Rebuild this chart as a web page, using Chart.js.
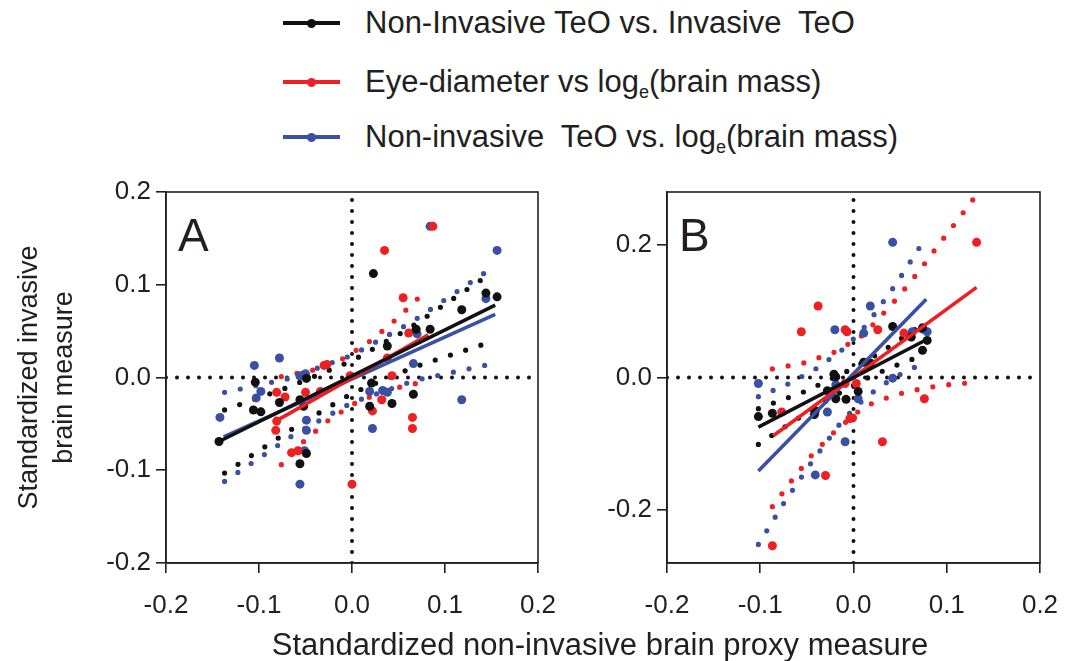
<!DOCTYPE html>
<html><head><meta charset="utf-8">
<script src="https://cdn.jsdelivr.net/npm/chart.js@4.4.0/dist/chart.umd.min.js"></script>
<style>
html,body{margin:0;padding:0;background:#fff;width:1075px;height:661px;overflow:hidden;font-family:"Liberation Sans",Arial,sans-serif;color:#231f20;}
canvas{position:absolute;}
.leg{position:absolute;left:283px;width:760px;height:36px;}
.leg .ln{position:absolute;left:0;top:16px;width:57px;height:4px;}
.leg .dt{position:absolute;left:24px;top:13.5px;width:9px;height:9px;border-radius:50%;}
.leg .tx{position:absolute;left:82px;top:0;font-size:31px;line-height:36px;white-space:pre;}
.leg sub{font-size:18px;vertical-align:-6px;line-height:0;}
.plab{position:absolute;font-size:46px;line-height:46px;}
#xtitle{position:absolute;left:0;width:1200px;text-align:center;top:627px;font-size:31px;line-height:36px;white-space:pre;}
</style></head>
<body>
<div class="leg" style="top:5px"><div class="ln" style="background:#111"></div><div class="dt" style="background:#111"></div><div class="tx">Non-Invasive TeO vs. Invasive  TeO</div></div>
<div class="leg" style="top:64px"><div class="ln" style="background:#ed2024"></div><div class="dt" style="background:#ed2024"></div><div class="tx">Eye-diameter vs log<sub>e</sub>(brain mass)</div></div>
<div class="leg" style="top:119px"><div class="ln" style="background:#3a50a2"></div><div class="dt" style="background:#3a50a2"></div><div class="tx">Non-invasive  TeO vs. log<sub>e</sub>(brain mass)</div></div>
<canvas id="cA" width="560" height="491" style="left:0;top:170px"></canvas>
<canvas id="cB" width="515" height="491" style="left:560px;top:170px"></canvas>
<div class="plab" style="left:178px;top:212px">A</div>
<div class="plab" style="left:679px;top:212px">B</div>
<div id="xtitle">Standardized non-invasive brain proxy measure</div>
<script>
// ---- axes ----
const xRange = [-0.2, 0.2];
const xTicks = [-0.2, -0.1, 0, 0.1, 0.2];
const xTickLabels = ['-0.2', '-0.1', '0.0', '0.1', '0.2'];
const aYRange = [-0.2, 0.2];
const aYTicks = [-0.2, -0.1, 0, 0.1, 0.2];
const aYTickLabels = ['-0.2', '-0.1', '0.0', '0.1', '0.2'];
const bYRange = [-0.28, 0.28];
const bYTicks = [-0.2, 0, 0.2];
const bYTickLabels = ['-0.2', '0.0', '0.2'];
const yTitle = ['Standardized invasive', 'brain measure'];

// ---- Panel A data ----
const aBlackPts = [[-0.143,-0.069],[0.023,0.112],[0.156,0.087],[0.144,0.091],[0.118,0.073],[0.084,0.052],[0.069,0.052],[0.038,0.034],[0.021,-0.006],[0.066,-0.018],[0.043,-0.028],[0.019,-0.031],[-0.049,-0.001],[-0.052,-0.031],[-0.056,-0.024],[-0.078,-0.027],[-0.106,-0.035],[-0.098,-0.037],[-0.104,-0.005],[-0.049,-0.082],[-0.056,-0.093]];
const aRedPts = [[0.087,0.163],[0.035,0.137],[0.055,0.086],[0.061,0.048],[0.038,0.021],[0.043,0.002],[-0.002,0.002],[-0.027,0.014],[-0.030,0.013],[-0.034,-0.015],[-0.050,-0.016],[-0.072,-0.021],[-0.081,-0.016],[-0.081,-0.047],[-0.082,-0.057],[0.032,-0.024],[0.022,-0.036],[0.065,-0.043],[0.065,-0.055],[0.000,-0.115],[-0.058,-0.079],[-0.065,-0.081]];
const aBluePts = [[0.084,0.163],[0.156,0.137],[0.144,0.085],[0.070,0.047],[0.066,0.015],[0.118,-0.024],[0.033,-0.014],[0.038,-0.016],[0.019,-0.015],[0.022,-0.055],[-0.078,0.021],[-0.105,0.013],[-0.142,-0.043],[-0.103,-0.022],[-0.098,-0.015],[-0.056,0.002],[-0.050,0.004],[-0.049,-0.046],[-0.049,-0.057],[-0.051,-0.079],[-0.056,-0.115]];
const aBlackFit = [[-0.143,-0.069],[0.154,0.078]];
const aRedFit = [[-0.082,-0.047],[0.082,0.046]];
const aBlueFit = [[-0.138,-0.064],[0.154,0.068]];
const aBlackUpper = [[-0.137,-0.035],[-0.070,-0.011],[0.000,0.018],[0.060,0.052],[0.149,0.112]];
const aBlackLower = [[-0.137,-0.103],[-0.062,-0.054],[0.000,-0.017],[0.066,0.011],[0.151,0.039]];
const aRedUpper = [[-0.076,0.001],[-0.042,0.008],[-0.008,0.021],[0.022,0.041],[0.049,0.064],[0.080,0.094]];
const aRedLower = [[-0.076,-0.094],[-0.051,-0.068],[-0.024,-0.045],[0.006,-0.026],[0.040,-0.013],[0.080,-0.004]];
const aBlueUpper = [[-0.137,-0.016],[-0.067,-0.001],[0.000,0.024],[0.063,0.059],[0.152,0.119]];
const aBlueLower = [[-0.137,-0.112],[-0.063,-0.062],[0.000,-0.027],[0.068,-0.003],[0.152,0.015]];

// ---- Panel B data ----
const bBlackPts = [[0.042,0.077],[0.062,0.061],[0.074,0.041],[0.079,0.056],[0.074,0.075],[0.011,0.023],[0.018,0.022],[-0.021,0.005],[-0.019,0.001],[-0.028,-0.020],[-0.019,-0.032],[-0.008,-0.033],[-0.041,-0.050],[-0.042,-0.056],[0.005,-0.021],[-0.087,-0.054],[-0.102,-0.059]];
const bRedPts = [[0.132,0.204],[-0.038,0.108],[-0.056,0.069],[-0.009,0.072],[-0.007,0.069],[0.026,0.072],[0.054,0.067],[-0.001,-0.061],[-0.004,-0.062],[-0.009,-0.009],[0.003,-0.009],[-0.077,-0.052],[0.031,-0.097],[-0.030,-0.148],[-0.087,-0.254],[0.076,-0.032]];
const bBluePts = [[0.042,0.204],[0.018,0.108],[-0.020,0.072],[0.011,0.067],[0.063,0.069],[0.074,0.073],[0.079,0.069],[-0.102,-0.009],[-0.019,-0.011],[-0.028,-0.052],[0.005,-0.032],[-0.009,-0.097],[-0.041,-0.147],[0.042,-0.001]];
const bBlackFit = [[-0.102,-0.075],[0.078,0.057]];
const bRedFit = [[-0.086,-0.088],[0.132,0.136]];
const bBlueFit = [[-0.102,-0.141],[0.078,0.118]];
const bBlackUpper = [[-0.102,-0.047],[-0.052,-0.021],[-0.003,0.012],[0.028,0.037],[0.058,0.065],[0.076,0.082]];
const bBlackLower = [[-0.102,-0.101],[-0.072,-0.073],[-0.042,-0.046],[-0.012,-0.021],[0.020,0.003],[0.052,0.022],[0.076,0.034]];
const bRedUpper = [[-0.087,0.013],[-0.053,0.022],[-0.019,0.039],[0.008,0.062],[0.024,0.084],[0.047,0.120],[0.070,0.160],[0.091,0.200],[0.113,0.240],[0.132,0.276]];
const bRedLower = [[-0.087,-0.195],[-0.066,-0.155],[-0.044,-0.116],[-0.019,-0.080],[0.008,-0.048],[0.024,-0.036],[0.058,-0.021],[0.093,-0.012],[0.132,-0.007]];
const bBlueUpper = [[-0.102,-0.029],[-0.069,-0.009],[-0.038,0.015],[-0.009,0.045],[0.015,0.081],[0.046,0.142],[0.078,0.212]];
const bBlueLower = [[-0.102,-0.252],[-0.074,-0.188],[-0.044,-0.126],[-0.012,-0.065],[0.013,-0.030],[0.042,-0.001],[0.078,0.024]];

const BLACK = '#111111', RED = '#ed2024', BLUE = '#3a50a2', AX = '#231f20';
const FONT = '"Liberation Sans", Arial, sans-serif';

function xy(arr) { return arr.map(p => ({ x: p[0], y: p[1] })); }

const framePlugin = {
  id: 'frame',
  afterDraw(chart) {
    const a = chart.chartArea, c = chart.ctx;
    c.save(); c.strokeStyle = AX; c.lineWidth = 1.6;
    c.strokeRect(a.left, a.top, a.right - a.left, a.bottom - a.top);
    c.restore();
  }
};

function makePanel(id, yRange, yTicks, yLabels, series, opts) {
  const ds = [];
  const colors = [BLACK, RED, BLUE];
  series.forEach((s, i) => {
    ds.push({ data: xy(s.fit), showLine: true, borderColor: colors[i], borderWidth: 3.6, pointRadius: 0, order: i, borderCapStyle: 'butt' });
  });
  series.forEach((s, i) => {
    ds.push({ data: xy(s.pts), showLine: false, backgroundColor: colors[i], borderWidth: 0, pointRadius: 4.5, order: 3 + i });
  });
  series.forEach((s, i) => {
    [s.upper, s.lower].forEach(b => {
      ds.push({ data: xy(b), showLine: true, borderColor: colors[i], borderWidth: 5.2, borderDash: [0, 16], borderCapStyle: 'round', pointRadius: 0, order: 6 + i });
    });
  });
  ds.push({ data: [{ x: 0, y: yRange[0] }, { x: 0, y: yRange[1] }], showLine: true, borderColor: BLACK, borderWidth: 4, borderDash: [0, 11], borderCapStyle: 'round', pointRadius: 0, order: 10 });
  ds.push({ data: [{ x: xRange[0], y: 0 }, { x: xRange[1], y: 0 }], showLine: true, borderColor: BLACK, borderWidth: 4, borderDash: [0, 11], borderCapStyle: 'round', pointRadius: 0, order: 10 });

  return new Chart(document.getElementById(id), {
    type: 'scatter',
    data: { datasets: ds },
    plugins: [framePlugin],
    options: {
      responsive: false, animation: false,
      layout: { padding: { top: 22, right: opts.right, left: 0, bottom: 0 } },
      plugins: { legend: { display: false }, tooltip: { enabled: false } },
      scales: {
        x: {
          type: 'linear', min: xRange[0], max: xRange[1],
          afterBuildTicks: s => { s.ticks = xTicks.map(v => ({ value: v })); },
          afterFit: s => { s.height = 98; s.paddingLeft = 0; s.paddingRight = 0; },
          ticks: { callback: (v) => xTickLabels[xTicks.indexOf(v)] ?? '', color: AX, font: { family: FONT, size: 26 }, padding: 17, maxRotation: 0 },
          grid: { drawOnChartArea: false, drawTicks: true, tickLength: 10, tickColor: AX, lineWidth: 1.6 },
          border: { display: true, color: AX, width: 1.6 }
        },
        y: {
          type: 'linear', min: yRange[0], max: yRange[1],
          afterBuildTicks: s => { s.ticks = yTicks.map(v => ({ value: v })); },
          afterFit: s => { s.width = opts.yWidth; s.paddingTop = 0; s.paddingBottom = 0; },
          ticks: { callback: (v) => yLabels[yTicks.indexOf(v)] ?? '', color: AX, font: { family: FONT, size: 26 }, padding: 5 },
          grid: { drawOnChartArea: false, drawTicks: true, tickLength: 10, tickColor: AX, lineWidth: 1.6 },
          border: { display: true, color: AX, width: 1.6 },
          title: opts.title ? { display: true, text: opts.title, color: AX, font: { family: FONT, size: 27, lineHeight: 1.3 }, padding: { top: 12, bottom: 0 } } : { display: false }
        }
      }
    }
  });
}

makePanel('cA', aYRange, aYTicks, aYTickLabels, [
  { pts: aBlackPts, fit: aBlackFit, upper: aBlackUpper, lower: aBlackLower },
  { pts: aRedPts, fit: aRedFit, upper: aRedUpper, lower: aRedLower },
  { pts: aBluePts, fit: aBlueFit, upper: aBlueUpper, lower: aBlueLower }
], { right: 22, yWidth: 166, title: yTitle });

makePanel('cB', bYRange, bYTicks, bYTickLabels, [
  { pts: bBlackPts, fit: bBlackFit, upper: bBlackUpper, lower: bBlackLower },
  { pts: bRedPts, fit: bRedFit, upper: bRedUpper, lower: bRedLower },
  { pts: bBluePts, fit: bBlueFit, upper: bBlueUpper, lower: bBlueLower }
], { right: 35, yWidth: 107, title: null });
</script>
</body></html>
